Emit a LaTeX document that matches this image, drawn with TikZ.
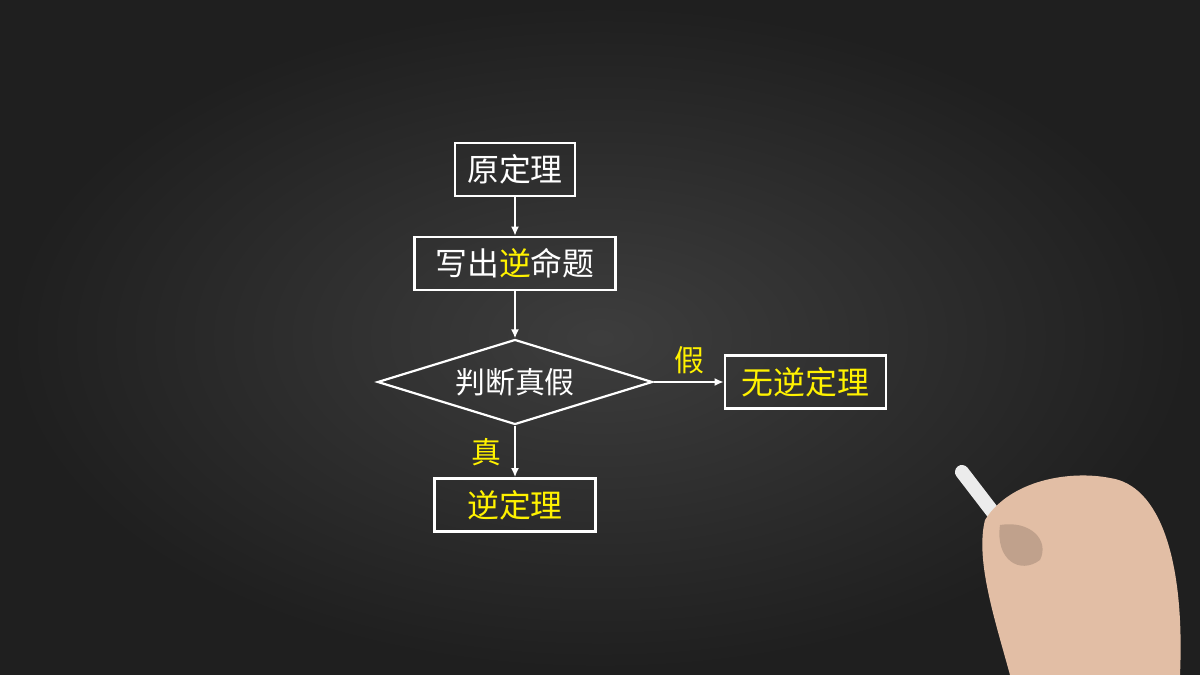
\documentclass[tikz,border=0pt]{standalone}
\usepackage{fontspec}
\newfontfamily\cjk{Noto Sans CJK SC}
\usetikzlibrary{shapes.geometric,arrows.meta}
\definecolor{chalkyellow}{RGB}{255,242,0}
\definecolor{skin}{RGB}{226,190,165}
\begin{document}
\begin{tikzpicture}[x=1bp,y=-1bp,>={Latex[length=9bp,width=8bp]},
  box/.style={draw=white,line width=2.6bp,rectangle,minimum height=53bp,inner sep=0pt,font=\cjk\fontsize{32}{34}\selectfont,text=white},
  dec/.style={draw=white,line width=2.2bp,diamond,aspect=3.25,minimum width=275bp,minimum height=85bp,inner sep=0pt,font=\cjk\fontsize{30}{32}\selectfont,text=white},
  lab/.style={font=\cjk\fontsize{30}{32}\selectfont,text=chalkyellow},
  link/.style={white,line width=2bp,->}]
%%
\shade[inner color=black!76!white,outer color=black!88] (0,0) rectangle (1200,675);
\useasboundingbox (0,0) rectangle (1200,675);
\node (node_0) at (515,169.5) [box,minimum width=120bp] {原定理};
  \node (node_1) at (515,263.5) [box,minimum width=201bp] {写出\textcolor{chalkyellow}{逆}命题};
  \node (node_2) at (515,382) [dec] {判断真假};
  \node (node_3) at (805.5,382) [box,minimum width=161bp,text=chalkyellow] {无逆定理};
  \node (node_4) at (515,505) [box,minimum width=161bp,text=chalkyellow] {逆定理};
  \node (lab_f) at (689,360) [lab] {假};
  \node (lab_t) at (486,452) [lab] {真};
  \draw [link] (node_0) -- (node_1);
  \draw [link] (node_1) -- (node_2);
  \draw [link] (node_2.east) -- (node_3.west);
  \draw [link] (node_2.south) -- (node_4.north);
%% hand with chalk
\draw[line width=14bp,white!85!gray,line cap=round] (962,472) -- (1005,528);
\fill[skin] (985,520) .. controls (1010,480) and (1070,470) .. (1110,478)
  .. controls (1160,485) and (1185,560) .. (1180,675) -- (1010,675)
  .. controls (995,620) and (975,560) .. (985,520) -- cycle;
\fill[skin!85!black] (1000,525) .. controls (1030,520) and (1050,540) .. (1040,560)
  .. controls (1020,575) and (995,560) .. (1000,525) -- cycle;
%
\end{tikzpicture}
\end{document}
